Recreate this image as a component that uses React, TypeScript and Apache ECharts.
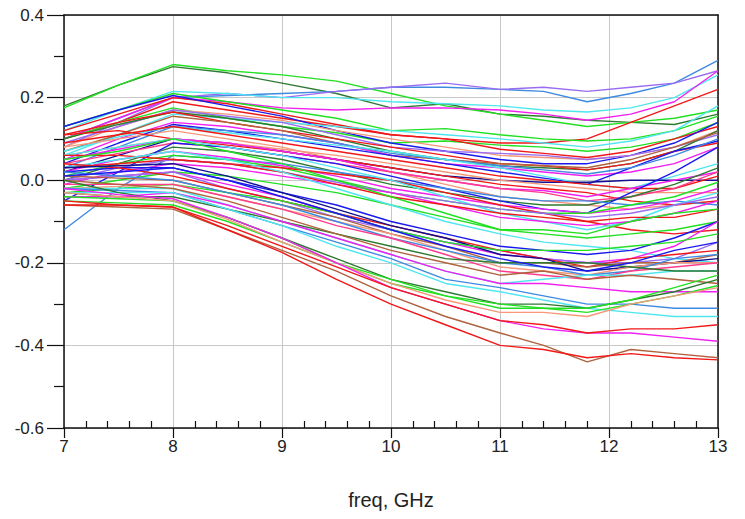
import React, { useEffect, useRef } from "react";
import * as echarts from "echarts";

// Sweep frequencies (GHz) shared by every trace
const freqGHz = [7, 7.5, 8, 8.5, 9, 9.5, 10, 10.5, 11, 11.4, 11.8, 12.2, 12.6, 13];

const xTicks = [7, 8, 9, 10, 11, 12, 13];
const yTicks = [-0.6, -0.4, -0.2, 0.0, 0.2, 0.4];

const C = {
  red: "#f01818",
  green: "#22e022",
  dkgreen: "#2f7a32",
  blue: "#1a1aee",
  steel: "#3f8ae0",
  cyan: "#4fe6ef",
  magenta: "#f020f0",
  purple: "#9a6cf2",
  brown: "#b0623e",
  salmon: "#f6977a",
  navy: "#101090",
  pink: "#ff3c8c",
};

// Upper bundle
const upperColors = [C.dkgreen, C.green, C.steel, C.purple, C.cyan, C.magenta, C.red, C.green, C.green];
const upperTraces = [
  [0.18, 0.23, 0.275, 0.26, 0.235, 0.21, 0.175, 0.185, 0.16, 0.155, 0.145, 0.14, 0.135, 0.16],
  [0.175, 0.23, 0.28, 0.265, 0.255, 0.24, 0.21, 0.18, 0.16, 0.145, 0.13, 0.14, 0.15, 0.17],
  [0.1, 0.15, 0.2, 0.205, 0.21, 0.215, 0.225, 0.225, 0.22, 0.215, 0.19, 0.21, 0.235, 0.29],
  [0.08, 0.14, 0.2, 0.21, 0.2, 0.215, 0.225, 0.235, 0.22, 0.225, 0.215, 0.225, 0.235, 0.265],
  [0.12, 0.17, 0.215, 0.21, 0.2, 0.2, 0.19, 0.185, 0.18, 0.17, 0.165, 0.175, 0.2, 0.255],
  [0.1, 0.15, 0.2, 0.19, 0.175, 0.17, 0.175, 0.175, 0.17, 0.16, 0.145, 0.16, 0.19, 0.265],
  [0.1, 0.14, 0.19, 0.17, 0.15, 0.13, 0.11, 0.1, 0.09, 0.09, 0.1, 0.14, 0.18, 0.22],
  [0.13, 0.17, 0.21, 0.19, 0.17, 0.15, 0.12, 0.125, 0.11, 0.1, 0.095, 0.1, 0.12, 0.155],
  [0.1, 0.14, 0.175, 0.15, 0.13, 0.115, 0.09, 0.095, 0.085, 0.08, 0.07, 0.08, 0.1, 0.14],
];

// Upper-middle bundle
const upperMidColors = [C.red, C.blue, C.salmon, C.cyan, C.purple, C.dkgreen, C.red, C.brown, C.magenta, C.blue, C.steel, C.cyan, C.salmon];
const upperMidTraces = [
  [0.12, 0.16, 0.2, 0.185, 0.16, 0.135, 0.11, 0.1, 0.075, 0.065, 0.055, 0.07, 0.1, 0.13],
  [0.13, 0.17, 0.205, 0.18, 0.155, 0.12, 0.09, 0.07, 0.05, 0.04, 0.04, 0.06, 0.09, 0.14],
  [0.08, 0.13, 0.17, 0.16, 0.145, 0.12, 0.1, 0.08, 0.06, 0.055, 0.05, 0.06, 0.08, 0.12],
  [0.06, 0.11, 0.16, 0.15, 0.14, 0.13, 0.12, 0.11, 0.1, 0.09, 0.08, 0.095, 0.12, 0.18],
  [0.09, 0.13, 0.17, 0.155, 0.14, 0.11, 0.08, 0.07, 0.065, 0.06, 0.05, 0.06, 0.08, 0.11],
  [0.1, 0.135, 0.165, 0.15, 0.13, 0.1, 0.07, 0.05, 0.035, 0.03, 0.025, 0.04, 0.07, 0.12],
  [0.11, 0.14, 0.165, 0.14, 0.12, 0.1, 0.08, 0.06, 0.04, 0.035, 0.025, 0.04, 0.07, 0.09],
  [0.07, 0.11, 0.155, 0.14, 0.12, 0.09, 0.06, 0.05, 0.04, 0.035, 0.03, 0.05, 0.08, 0.115],
  [0.05, 0.1, 0.14, 0.13, 0.11, 0.09, 0.06, 0.04, 0.03, 0.02, 0.01, 0.02, 0.04, 0.08],
  [0.04, 0.09, 0.135, 0.12, 0.1, 0.08, 0.06, 0.04, 0.02, 0.005, -0.01, 0.03, 0.07, 0.095],
  [0.03, 0.08, 0.13, 0.12, 0.11, 0.09, 0.065, 0.05, 0.035, 0.025, 0.015, 0.03, 0.06, 0.1],
  [0.07, 0.105, 0.13, 0.115, 0.1, 0.085, 0.07, 0.05, 0.03, 0.01, -0.01, -0.02, 0.01, 0.04],
  [0.08, 0.1, 0.12, 0.1, 0.08, 0.05, 0.02, -0.01, -0.04, -0.05, -0.06, -0.07, -0.06, -0.05],
];

// Middle bundle
const midColors = [
  C.navy, C.red, C.red, C.salmon, C.magenta, C.pink, C.dkgreen, C.blue, C.steel,
  C.magenta, C.green, C.red, C.cyan, C.purple, C.magenta, C.red, C.green, C.cyan, C.green,
];
const midTraces = [
  [0.02, 0.06, 0.1, 0.09, 0.07, 0.05, 0.03, 0.01, 0.0, -0.005, -0.005, 0.0, 0.0, 0.0],
  [0.09, 0.11, 0.13, 0.11, 0.09, 0.07, 0.05, 0.03, 0.01, 0.0, -0.01, -0.02, -0.02, 0.01],
  [0.11, 0.12, 0.1, 0.085, 0.07, 0.05, 0.03, 0.01, -0.01, -0.02, -0.03, -0.05, -0.06, -0.05],
  [0.06, 0.08, 0.1, 0.09, 0.075, 0.06, 0.04, 0.02, 0.0, -0.01, -0.02, -0.03, -0.03, -0.03],
  [0.05, 0.075, 0.1, 0.09, 0.07, 0.05, 0.02, 0.0, -0.02, -0.025, -0.04, -0.02, 0.0, 0.02],
  [0.04, 0.065, 0.09, 0.08, 0.06, 0.04, 0.02, 0.0, -0.02, -0.03, -0.05, -0.04, -0.02, 0.02],
  [0.0, 0.04, 0.08, 0.07, 0.05, 0.02, -0.01, -0.03, -0.05, -0.06, -0.06, -0.04, -0.01, 0.03],
  [-0.05, 0.02, 0.09, 0.08, 0.06, 0.04, 0.01, -0.02, -0.05, -0.07, -0.08, -0.03, 0.02, 0.08],
  [-0.12, -0.02, 0.06, 0.05, 0.04, 0.02, 0.0, -0.02, -0.04, -0.05, -0.05, -0.06, -0.05, -0.06],
  [0.02, 0.05, 0.07, 0.055, 0.035, 0.01, -0.02, -0.04, -0.06, -0.07, -0.08, -0.07, -0.05, -0.02],
  [0.01, 0.04, 0.06, 0.05, 0.03, 0.0, -0.03, -0.05, -0.07, -0.08, -0.08, -0.06, -0.04, -0.005],
  [0.03, 0.04, 0.05, 0.04, 0.03, 0.015, 0.0, -0.03, -0.06, -0.08, -0.1, -0.12, -0.13, -0.12],
  [0.06, 0.08, 0.1, 0.08, 0.06, 0.03, 0.0, -0.04, -0.08, -0.1, -0.12, -0.1, -0.06, -0.03],
  [0.0, 0.03, 0.05, 0.04, 0.02, -0.005, -0.03, -0.05, -0.07, -0.08, -0.09, -0.08, -0.06, -0.04],
  [-0.01, 0.02, 0.04, 0.03, 0.01, -0.01, -0.03, -0.06, -0.09, -0.1, -0.11, -0.1, -0.08, -0.05],
  [0.06, 0.06, 0.05, 0.04, 0.02, -0.01, -0.04, -0.06, -0.08, -0.09, -0.1, -0.09, -0.09, -0.07],
  [-0.02, 0.0, 0.02, 0.01, -0.01, -0.03, -0.06, -0.09, -0.12, -0.12, -0.13, -0.1, -0.08, -0.07],
  [0.03, 0.05, 0.07, 0.05, 0.02, -0.02, -0.06, -0.1, -0.13, -0.15, -0.16, -0.17, -0.19, -0.2],
  [0.05, 0.07, 0.1, 0.07, 0.04, 0.0, -0.04, -0.08, -0.12, -0.13, -0.14, -0.13, -0.12, -0.1],
];

// Lower-middle bundle
const lowerMidColors = [
  C.blue, C.magenta, C.purple, C.red, C.brown, C.navy, C.green, C.salmon,
  C.steel, C.pink, C.cyan, C.dkgreen, C.magenta, C.steel, C.cyan, C.brown, C.blue,
];
const lowerMidTraces = [
  [0.02, 0.03, 0.03, 0.0, -0.03, -0.06, -0.1, -0.13, -0.16, -0.17, -0.18, -0.17, -0.14, -0.1],
  [0.0, 0.01, 0.02, -0.01, -0.04, -0.08, -0.12, -0.15, -0.18, -0.19, -0.2, -0.19, -0.16, -0.1],
  [0.0, 0.01, 0.02, -0.02, -0.05, -0.09, -0.12, -0.15, -0.17, -0.19, -0.2, -0.2, -0.19, -0.15],
  [0.04, 0.03, 0.01, -0.02, -0.05, -0.08, -0.11, -0.14, -0.17, -0.19, -0.21, -0.19, -0.18, -0.17],
  [0.01, 0.005, 0.0, -0.03, -0.06, -0.09, -0.13, -0.16, -0.2, -0.2, -0.21, -0.2, -0.2, -0.18],
  [0.03, 0.035, 0.04, 0.01, -0.03, -0.07, -0.11, -0.14, -0.18, -0.19, -0.22, -0.21, -0.2, -0.19],
  [-0.03, -0.02, -0.01, -0.03, -0.05, -0.08, -0.12, -0.15, -0.17, -0.17, -0.17, -0.16, -0.15, -0.13],
  [-0.02, -0.015, -0.01, -0.04, -0.07, -0.1, -0.13, -0.17, -0.21, -0.22, -0.23, -0.21, -0.2, -0.2],
  [0.02, 0.01, 0.0, -0.03, -0.06, -0.1, -0.14, -0.17, -0.2, -0.21, -0.23, -0.22, -0.19, -0.18],
  [-0.01, -0.01, -0.01, -0.04, -0.07, -0.11, -0.14, -0.18, -0.22, -0.23, -0.24, -0.22, -0.21, -0.2],
  [-0.02, -0.02, -0.02, -0.06, -0.1, -0.14, -0.18, -0.22, -0.25, -0.24, -0.23, -0.23, -0.22, -0.22],
  [-0.03, -0.04, -0.04, -0.07, -0.1, -0.13, -0.16, -0.19, -0.2, -0.2, -0.2, -0.21, -0.22, -0.22],
  [-0.04, -0.04, -0.03, -0.06, -0.1, -0.14, -0.18, -0.22, -0.25, -0.25, -0.26, -0.27, -0.27, -0.27],
  [-0.02, -0.025, -0.03, -0.07, -0.11, -0.15, -0.19, -0.24, -0.26, -0.28, -0.3, -0.3, -0.31, -0.31],
  [-0.03, -0.03, -0.03, -0.07, -0.11, -0.16, -0.2, -0.25, -0.27, -0.29, -0.31, -0.32, -0.33, -0.33],
  [0.0, -0.01, -0.02, -0.05, -0.09, -0.13, -0.17, -0.2, -0.23, -0.22, -0.24, -0.23, -0.24, -0.25],
  [0.01, 0.02, 0.03, 0.0, -0.04, -0.08, -0.12, -0.16, -0.19, -0.21, -0.22, -0.2, -0.17, -0.15],
];

// Lowest bundle
const lowerColors = [C.dkgreen, C.green, C.green, C.salmon, C.magenta, C.red, C.brown, C.red];
const lowerTraces = [
  [0.0, -0.03, -0.05, -0.09, -0.14, -0.19, -0.24, -0.27, -0.3, -0.3, -0.31, -0.29, -0.27, -0.24],
  [-0.05, -0.055, -0.06, -0.1, -0.15, -0.2, -0.25, -0.28, -0.31, -0.31, -0.32, -0.3, -0.28, -0.255],
  [-0.04, -0.045, -0.05, -0.09, -0.14, -0.2, -0.24, -0.28, -0.3, -0.31, -0.31, -0.29, -0.26, -0.23],
  [-0.03, -0.04, -0.05, -0.095, -0.15, -0.2, -0.25, -0.29, -0.32, -0.32, -0.33, -0.3, -0.28, -0.26],
  [-0.02, -0.035, -0.045, -0.09, -0.14, -0.2, -0.26, -0.3, -0.34, -0.36, -0.37, -0.37, -0.38, -0.39],
  [-0.05, -0.06, -0.065, -0.11, -0.16, -0.21, -0.26, -0.3, -0.34, -0.35, -0.37, -0.36, -0.36, -0.35],
  [-0.06, -0.065, -0.07, -0.12, -0.17, -0.22, -0.28, -0.33, -0.37, -0.4, -0.44, -0.41, -0.42, -0.43],
  [-0.06, -0.06, -0.065, -0.12, -0.175, -0.24, -0.3, -0.35, -0.4, -0.41, -0.43, -0.42, -0.43, -0.435],
];

const bundles: [string[], number[][]][] = [
  [upperColors, upperTraces],
  [upperMidColors, upperMidTraces],
  [midColors, midTraces],
  [lowerMidColors, lowerMidTraces],
  [lowerColors, lowerTraces],
];

const FONT = "'Liberation Sans', Arial, sans-serif";

export default function App() {
  const ref = useRef<HTMLDivElement>(null);

  useEffect(() => {
    if (!ref.current) return;
    const chart = echarts.init(ref.current, undefined, { renderer: "svg" });

    const series: any[] = [];
    bundles.forEach(([colors, traces], b) => {
      traces.forEach((vals, i) => {
        series.push({
          name: `trace-${b}-${i}`,
          type: "line",
          xAxisIndex: 0,
          yAxisIndex: 0,
          showSymbol: false,
          symbol: "none",
          lineStyle: { color: colors[i], width: 1.4 },
          data: vals.map((v, k) => [freqGHz[k], v]),
          z: 3,
        });
      });
    });

    chart.setOption({
      animation: false,
      backgroundColor: "#ffffff",
      grid: { left: 64, right: 27, top: 15, bottom: 91, containLabel: false },
      xAxis: [
        {
          type: "value",
          position: "bottom",
          min: xTicks[0],
          max: xTicks[xTicks.length - 1],
          interval: 1,
          axisLine: { show: true, onZero: false, lineStyle: { color: "#111", width: 1.5 } },
          axisTick: { show: true, inside: false, length: 10, lineStyle: { color: "#111", width: 1.2 } },
          minorTick: { show: false },
          splitLine: { show: true, lineStyle: { color: "#c8c8c8", width: 1 } },
          axisLabel: {
            color: "#222",
            fontFamily: FONT,
            fontSize: 17,
            margin: 10,
          },
          name: "freq, GHz",
          nameLocation: "middle",
          nameGap: 62,
          nameTextStyle: { color: "#222", fontFamily: FONT, fontSize: 20 },
        },
        {
          type: "value",
          position: "bottom",
          min: xTicks[0],
          max: xTicks[xTicks.length - 1],
          interval: 1,
          axisLine: { show: false, onZero: false },
          axisTick: { show: false, inside: true },
          minorTick: { show: true, splitNumber: 5, length: 7, lineStyle: { color: "#111", width: 1.2 } },
          splitLine: { show: false },
          axisLabel: { show: false },
        },
        {
          type: "value",
          position: "top",
          min: xTicks[0],
          max: xTicks[xTicks.length - 1],
          axisLine: { show: true, onZero: false, lineStyle: { color: "#111", width: 1.5 } },
          axisTick: { show: false },
          splitLine: { show: false },
          axisLabel: { show: false },
        },
      ],
      yAxis: [
        {
          type: "value",
          position: "left",
          min: yTicks[0],
          max: yTicks[yTicks.length - 1],
          interval: 0.2,
          axisLine: { show: true, onZero: false, lineStyle: { color: "#111", width: 1.5 } },
          axisTick: { show: true, inside: false, length: 17, lineStyle: { color: "#111", width: 1.2 } },
          minorTick: { show: true, splitNumber: 2, length: 10, lineStyle: { color: "#111", width: 1.2 } },
          splitLine: { show: true, lineStyle: { color: "#c8c8c8", width: 1 } },
          axisLabel: {
            color: "#222",
            fontFamily: FONT,
            fontSize: 17,
            margin: 20,
            formatter: (v: number) => v.toFixed(1),
          },
        },
        {
          type: "value",
          position: "right",
          min: yTicks[0],
          max: yTicks[yTicks.length - 1],
          axisLine: { show: true, onZero: false, lineStyle: { color: "#111", width: 1.5 } },
          axisTick: { show: false },
          splitLine: { show: false },
          axisLabel: { show: false },
        },
      ],
      series,
    });

    return () => chart.dispose();
  }, []);

  return <div ref={ref} style={{ width: 745, height: 519, margin: -8 }} />;
}
